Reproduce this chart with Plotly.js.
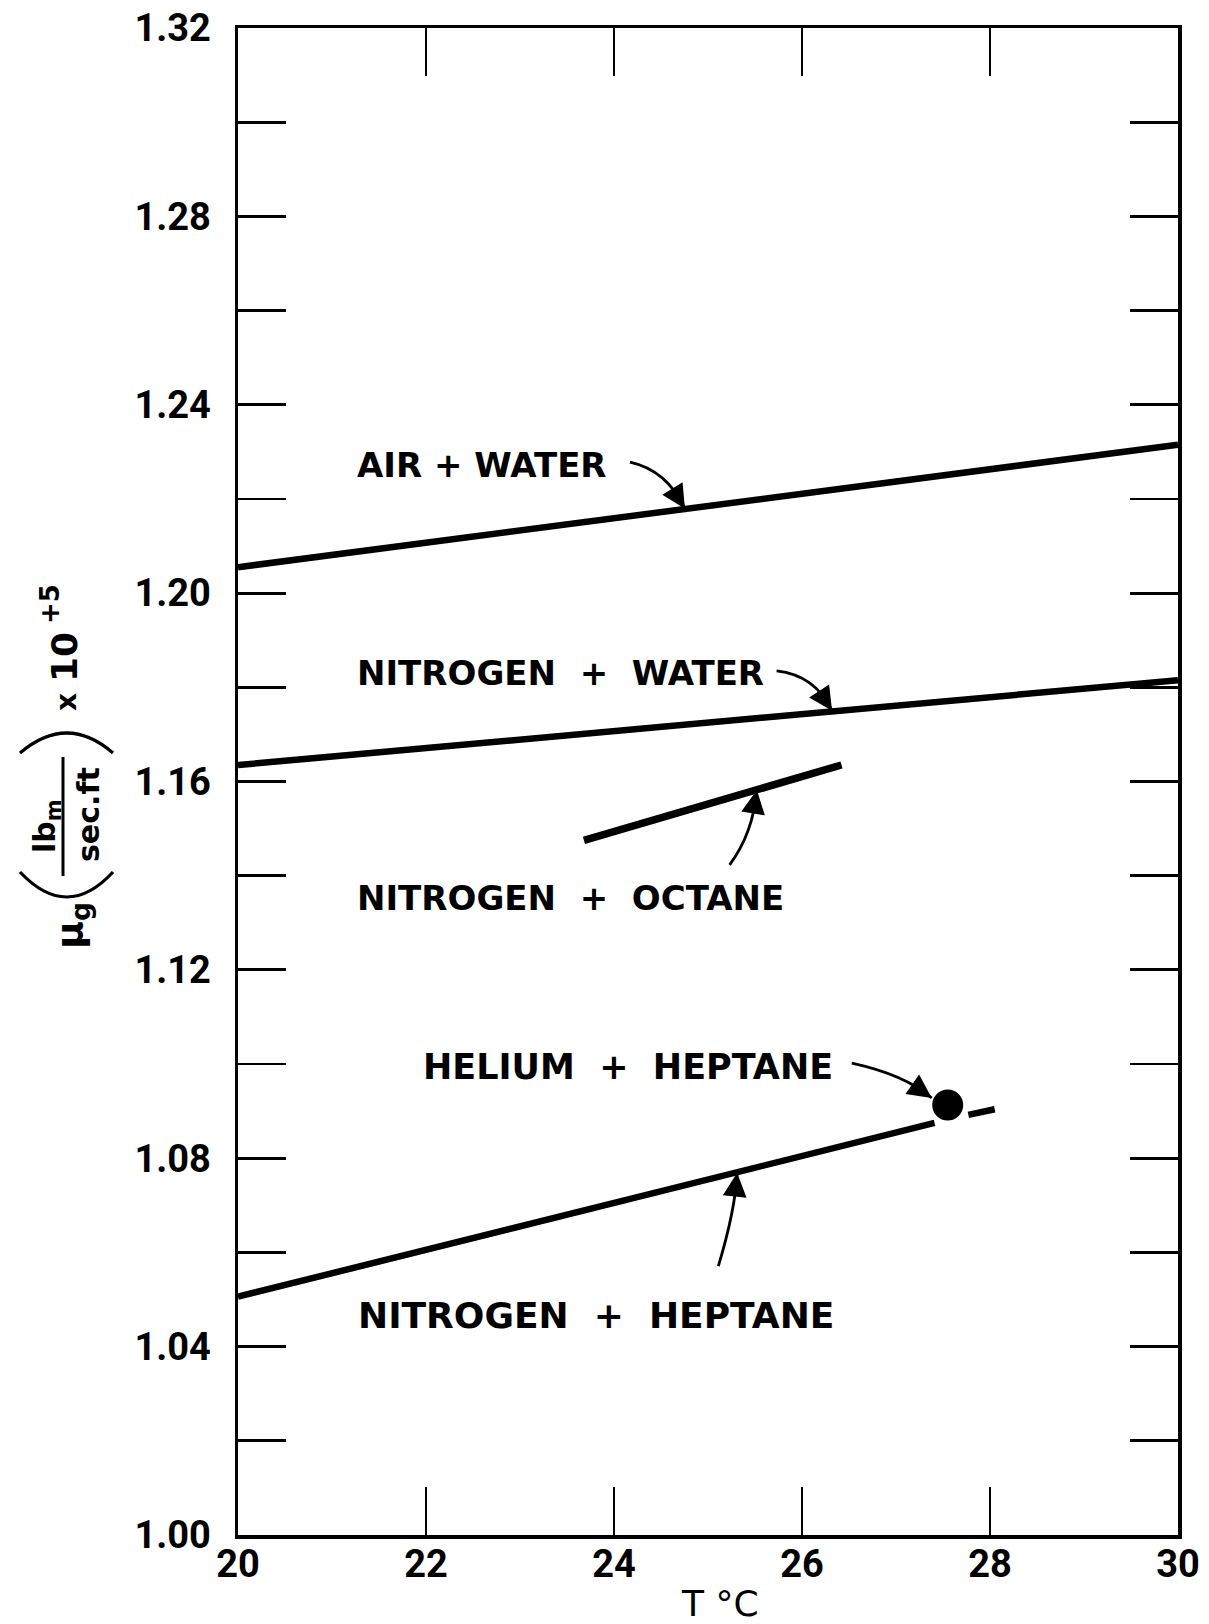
<!DOCTYPE html>
<html>
<head>
<meta charset="utf-8">
<script src="https://cdn.plot.ly/plotly-3.0.1.min.js"></script>
<style>html,body{margin:0;padding:0;background:#fff;}#chart{width:1209px;height:1624px;}</style>
</head>
<body>
<div id="chart"></div>
<script>
// ---- data ----
const airWaterT = [20, 30];
const airWaterMu = [1.2055, 1.2315];
const n2WaterT = [20, 30];
const n2WaterMu = [1.1635, 1.1815];
const n2OctaneT = [23.68, 26.42];
const n2OctaneMu = [1.1475, 1.1635];
const n2HeptaneT = [20, 27.41];
const n2HeptaneMu = [1.0506, 1.0875];
const n2HeptaneExtT = [27.77, 28.05];
const n2HeptaneExtMu = [1.0892, 1.0904];
const heHeptaneT = [27.55];
const heHeptaneMu = [1.0913];

const xTickVals = [20, 22, 24, 26, 28, 30];
const xTickText = ["20", "22", "24", "26", "28", "30"];
const yTickVals = [1.00, 1.02, 1.04, 1.06, 1.08, 1.10, 1.12, 1.14, 1.16, 1.18, 1.20, 1.22, 1.24, 1.26, 1.28, 1.30, 1.32];
const yTickText = ["1.00", "", "1.04", "", "1.08", "", "1.12", "", "1.16", "", "1.20", "", "1.24", "", "1.28", "", "1.32"];

const curveLabels = ["AIR + WATER", "NITROGEN\u00a0 +\u00a0 WATER", "NITROGEN\u00a0 +\u00a0 OCTANE", "HELIUM\u00a0 +\u00a0 HEPTANE", "NITROGEN\u00a0 +\u00a0 HEPTANE"];

// ---- layout helpers ----
const L = 238, T = 28, W = 940, H = 1507;
const px = X => (X - L) / W;          // paper x from pixel
const py = Y => (T + H - Y) / H;      // paper y from pixel

const lineStyle = {color: '#000', width: 6.5};
const traces = [
  {x: airWaterT, y: airWaterMu, mode: 'lines', line: lineStyle, hoverinfo: 'skip'},
  {x: n2WaterT, y: n2WaterMu, mode: 'lines', line: lineStyle, hoverinfo: 'skip'},
  {x: n2OctaneT, y: n2OctaneMu, mode: 'lines', line: {color: '#000', width: 7.5}, hoverinfo: 'skip'},
  {x: n2HeptaneT, y: n2HeptaneMu, mode: 'lines', line: lineStyle, hoverinfo: 'skip'},
  {x: n2HeptaneExtT, y: n2HeptaneExtMu, mode: 'lines', line: {color: '#000', width: 6.5}, hoverinfo: 'skip'},
  {x: heHeptaneT, y: heHeptaneMu, mode: 'markers', marker: {color: '#000', size: 31}, hoverinfo: 'skip'}
];

const labelSizes = [34, 34, 34, 35, 36];
const labelPos = [[21.245, 1.2272], [21.245, 1.1830], [21.245, 1.1352], [21.95, 1.0994], [21.26, 1.0467]];

const annotations = curveLabels.map((t, i) => ({
  x: labelPos[i][0], y: labelPos[i][1], xref: 'x', yref: 'y', text: t,
  showarrow: false, xanchor: 'left', yanchor: 'middle',
  font: {family: 'DejaVu Sans', size: labelSizes[i], color: '#000', weight: 700}
}));

// curved arrows: start, control, tip (data coords)
const arrows = [
  [[24.17, 1.2278], [24.56, 1.2261], [24.755, 1.2179]],
  [[25.73, 1.1835], [26.14, 1.1826], [26.32, 1.1750]],
  [[25.23, 1.1423], [25.48, 1.1490], [25.52, 1.1582]],
  [[26.53, 1.1002], [27.10, 1.0977], [27.38, 1.0928]],
  [[25.11, 1.0571], [25.29, 1.0690], [25.31, 1.0769]]
];
const shapes = [];
const bez = (a, c, b, t) => [
  (1 - t) * (1 - t) * a[0] + 2 * (1 - t) * t * c[0] + t * t * b[0],
  (1 - t) * (1 - t) * a[1] + 2 * (1 - t) * t * c[1] + t * t * b[1]
];
arrows.forEach(([a, c, b]) => {
  shapes.push({type: 'path', xref: 'x', yref: 'y',
    path: `M ${a[0]},${a[1]} Q ${c[0]},${c[1]} ${b[0]},${b[1]}`,
    line: {color: '#000', width: 2.8}});
  const p = bez(a, c, b, 0.7);
  annotations.push({x: b[0], y: b[1], xref: 'x', yref: 'y', ax: p[0], ay: p[1],
    axref: 'x', ayref: 'y', text: '', showarrow: true, arrowhead: 2,
    arrowsize: 1.7, arrowwidth: 2.8, arrowcolor: '#000'});
});

// y-axis title built from rotated pieces
const titleFont = s => ({family: 'DejaVu Sans', size: s, color: '#000', weight: 700});
const rot = (X, Y, text, size) => ({x: px(X), y: py(Y), xref: 'paper', yref: 'paper',
  text: text, textangle: -90, showarrow: false, xanchor: 'center', yanchor: 'middle', font: titleFont(size)});
annotations.push(rot(72, 926, 'μ<sub>g</sub>', 38));
annotations.push(rot(46, 826, 'lb<sub>m</sub>', 30));
annotations.push(rot(88, 815, 'sec.ft', 30));
annotations.push(rot(66, 702, 'x', 28));
annotations.push(rot(64, 657, '10', 36));
annotations.push(rot(50, 604, '+5', 26));
// parentheses and fraction bar
shapes.push({type: 'path', xref: 'paper', yref: 'paper',
  path: `M ${px(20)},${py(753)} Q ${px(67)},${py(713)} ${px(113)},${py(753)}`, line: {color: '#000', width: 3.2}});
shapes.push({type: 'path', xref: 'paper', yref: 'paper',
  path: `M ${px(20)},${py(872)} Q ${px(67)},${py(922)} ${px(113)},${py(872)}`, line: {color: '#000', width: 3.2}});
shapes.push({type: 'line', xref: 'paper', yref: 'paper',
  x0: px(63), x1: px(63), y0: py(757), y1: py(876), line: {color: '#000', width: 3}});

// x-axis title
annotations.push({x: px(720), y: py(1603), xref: 'paper', yref: 'paper', text: 'T °C',
  showarrow: false, xanchor: 'center', yanchor: 'middle',
  font: {family: 'DejaVu Sans', size: 36, color: '#000'}});

const tickFont = {family: 'Roboto', size: 38, color: '#000', weight: 700};
const layout = {
  width: 1209, height: 1624,
  margin: {l: L, r: 1209 - L - W, t: T, b: 1624 - T - H},
  paper_bgcolor: '#fff', plot_bgcolor: '#fff',
  showlegend: false,
  xaxis: {range: [20, 30], tickvals: xTickVals, ticktext: xTickText,
    ticks: 'inside', ticklen: 48, tickwidth: 2.8, tickcolor: '#000',
    showline: true, linewidth: 3.5, linecolor: '#000', mirror: 'ticks',
    showgrid: false, zeroline: false, tickfont: tickFont, ticklabelstandoff: -7},
  yaxis: {range: [1.00, 1.32], tickvals: yTickVals, ticktext: yTickText,
    ticks: 'inside', ticklen: 48, tickwidth: 2.8, tickcolor: '#000',
    showline: true, linewidth: 3.5, linecolor: '#000', mirror: 'ticks',
    showgrid: false, zeroline: false, tickfont: tickFont, ticklabelstandoff: 16},
  annotations: annotations,
  shapes: shapes
};

Plotly.newPlot('chart', traces, layout, {staticPlot: true, displayModeBar: false});
</script>
</body>
</html>
